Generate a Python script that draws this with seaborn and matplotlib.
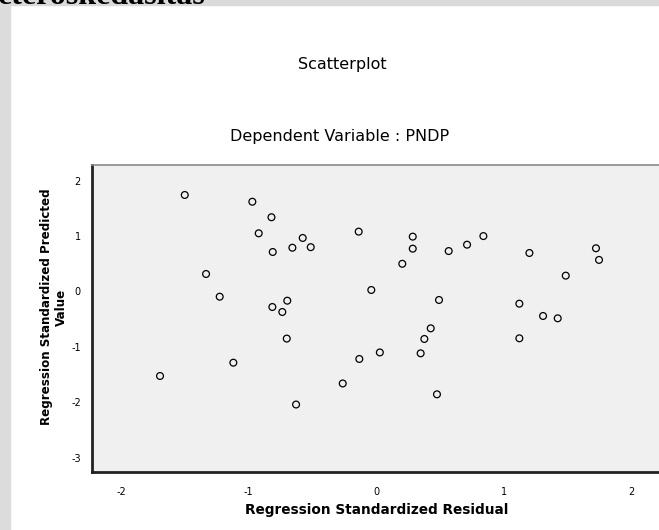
import seaborn as sns
import pandas as pd
import matplotlib.pyplot as plt
from matplotlib.patches import Rectangle

# Points (standardized residual vs standardized predicted value)
resid = [-1.50, -0.97, -0.82, -0.92, -0.575, -0.656, -0.512, -0.81, -0.136, -1.333,
         -1.226, -0.696, -0.813, -0.735, -0.037, -0.70, -1.119, -1.694, -0.131, 0.030,
         -0.261, -0.627, 0.288, 0.288, 0.206, 0.57, 0.714, 0.842, 1.203, 1.725,
         1.749, 1.488, 0.494, 1.124, 1.31, 1.425, 0.429, 0.379, 1.124, 0.35,
         0.478]
predicted = [1.742, 1.62, 1.34, 1.05, 0.966, 0.79, 0.80, 0.713, 1.08, 0.316,
             -0.094, -0.166, -0.28, -0.37, 0.027, -0.85, -1.285, -1.525, -1.218, -1.10,
             -1.66, -2.04, 0.99, 0.773, 0.50, 0.73, 0.845, 1.00, 0.695, 0.78,
             0.57, 0.286, -0.153, -0.22, -0.442, -0.484, -0.665, -0.857, -0.845, -1.116,
             -1.856]
x_ticks = [-2, -1, 0, 1, 2]
y_ticks = [-3, -2, -1, 0, 1, 2]

df = pd.DataFrame({"Residual": resid, "Predicted": predicted})

sns.set_style("white")
plt.rcParams['font.family'] = ['DejaVu Sans']
plt.rcParams['axes.unicode_minus'] = False
plt.rcParams['text.color'] = 'black'
plt.rcParams['axes.labelcolor'] = 'black'
plt.rcParams['xtick.color'] = 'black'
plt.rcParams['ytick.color'] = 'black'

fig = plt.figure(figsize=(6.59, 5.30), dpi=100)
W, H = 659, 530

# page background bits from the source document
fig.patches.append(Rectangle((0, 1 - 5 / H), 1, 5 / H, transform=fig.transFigure,
                             color="#dadada", zorder=0))
fig.patches.append(Rectangle((0, 0), 10 / W, 1, transform=fig.transFigure,
                             color="#dcdcdc", zorder=0))
fig.text(-2 / W, 1 - 4.5 / H, "eteroskedasitas", family="Liberation Serif",
         fontweight="bold", fontsize=23, ha="left", va="baseline")

ax = fig.add_axes([92 / W, 1 - 471.5 / H, 569 / W, 306.5 / H])
ax.set_facecolor("#f0f0f0")

sns.scatterplot(data=df, x="Residual", y="Predicted", ax=ax, marker="o", s=24,
                facecolors="none", edgecolor="black", linewidth=0.9)

ax.set_xlim(-2.2275, 2.235)
ax.set_ylim(-3.249, 2.283)
ax.set_xticks(x_ticks)
ax.set_yticks(y_ticks)
ax.tick_params(direction="out", length=7, width=1, labelsize=7, color="black")
ax.tick_params(axis="x", pad=4.5)
ax.tick_params(axis="y", pad=1)

for side in ["left", "bottom"]:
    ax.spines[side].set_color("#222222")
    ax.spines[side].set_linewidth(2)
for side in ["top", "right"]:
    ax.spines[side].set_color("#8a8a8a")
    ax.spines[side].set_linewidth(1.2)

ax.set_xlabel("Regression Standardized Residual", fontsize=9.8, fontweight="bold", va="center")
ax.xaxis.set_label_coords(0.5, -38.5 / 306.5)
ax.set_ylabel("Regression Standardized Predicted\nValue", fontsize=8.6, fontweight="bold",
              va="center", ha="center", multialignment="center")
ax.yaxis.set_label_coords(-38.5 / 569, (471.5 - 307) / 306.5)

fig.text(342 / W, 1 - 65 / H, "Scatterplot", fontsize=11.5, ha="center", va="center")
fig.text(340 / W, 1 - 137 / H, "Dependent Variable : PNDP", fontsize=11.5,
         ha="center", va="center")

fig.savefig("out.png", dpi=100)
